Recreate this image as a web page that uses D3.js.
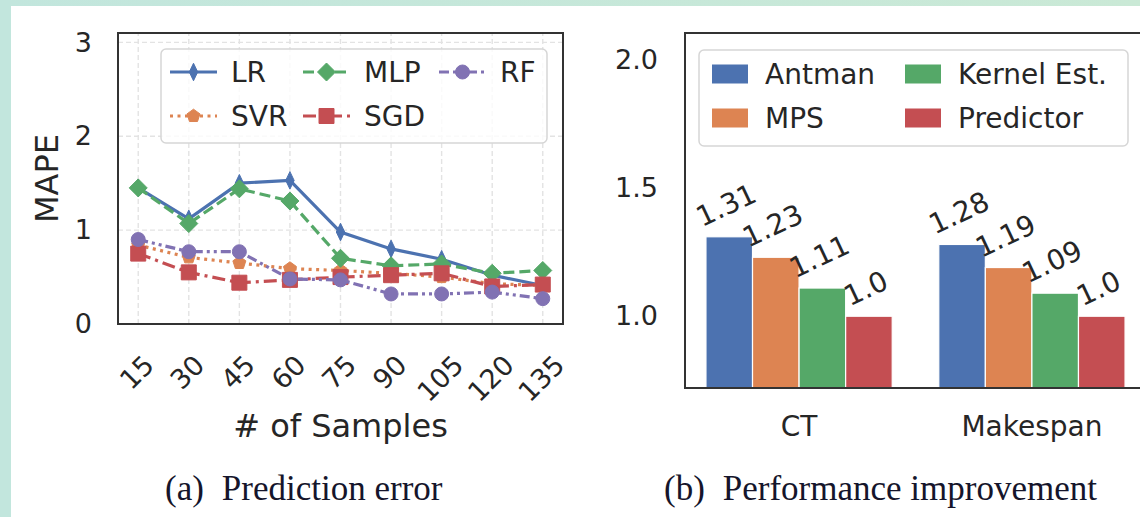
<!DOCTYPE html>
<html>
<head>
<meta charset="utf-8">
<script src="https://cdn.jsdelivr.net/npm/d3@7"></script>
<style>
  body { margin: 0; background: #ffffff; }
  svg { display: block; }
</style>
</head>
<body>
<svg id="fig" width="1140" height="517"></svg>
<script>
// ---- data: (a) prediction error ----
const samples = [15, 30, 45, 60, 75, 90, 105, 120, 135];
const lrErr  = [1.45, 1.12, 1.50, 1.53, 0.98, 0.80, 0.69, 0.52, 0.41];
const svrErr = [0.84, 0.71, 0.65, 0.59, 0.57, 0.54, 0.50, 0.43, 0.41];
const mlpErr = [1.45, 1.07, 1.44, 1.31, 0.70, 0.62, 0.64, 0.54, 0.57];
const sgdErr = [0.75, 0.55, 0.44, 0.47, 0.50, 0.52, 0.54, 0.40, 0.42];
const rfErr  = [0.90, 0.77, 0.77, 0.48, 0.47, 0.32, 0.32, 0.34, 0.27];
const modelNames = ["LR", "SVR", "MLP", "SGD", "RF"];
const mapeTicks = [0, 1, 2, 3];

// ---- data: (b) performance improvement ----
const metrics = ["CT", "Makespan"];
const methods = ["Antman", "MPS", "Kernel Est.", "Predictor"];
const ctGain = [1.31, 1.23, 1.11, 1.0];
const makespanGain = [1.28, 1.19, 1.09, 1.0];
const gainTicks = [1.0, 1.5, 2.0];

const palette = { blue: "#4C72B0", orange: "#DD8452", green: "#55A868", red: "#C44E52", purple: "#8172B3" };
const FONT = "'DejaVu Sans', sans-serif";
const TEXT = "#262626";

const svg = d3.select("#fig");

// ---- page frame ----
const defs = svg.append("defs");
const frameGrad = defs.append("linearGradient").attr("id", "frameTop").attr("x1", "0").attr("x2", "1");
frameGrad.append("stop").attr("offset", "0").attr("stop-color", "#c2e6dd");
frameGrad.append("stop").attr("offset", "1").attr("stop-color", "#cae9d6");
svg.append("rect").attr("x", 0).attr("y", 0).attr("width", 1140).attr("height", 6).attr("fill", "url(#frameTop)");
svg.append("rect").attr("x", 0).attr("y", 0).attr("width", 11).attr("height", 517).attr("fill", "#c2e6dd");

// marker path builders (size = nominal width in px)
function markerPath(kind, s) {
  const h = s / 2;
  if (kind === "thin") return `M0,${-h * 1.25}L${h * 0.6},0L0,${h * 1.25}L${-h * 0.6},0Z`;
  if (kind === "diamond") return `M0,${-h}L${h},0L0,${h}L${-h},0Z`;
  if (kind === "square") return `M${-h},${-h}H${h}V${h}H${-h}Z`;
  if (kind === "circle") return d3.symbol(d3.symbolCircle, Math.PI * h * h)();
  if (kind === "pentagon") {
    const pts = d3.range(5).map(i => {
      const a = -Math.PI / 2 + i * 2 * Math.PI / 5;
      return [h * 1.05 * Math.cos(a), h * 1.05 * Math.sin(a)];
    });
    return "M" + pts.map(p => p.join(",")).join("L") + "Z";
  }
}

// =================== (a) prediction error ===================
const xA = d3.scaleLinear().domain([9, 141]).range([118, 563]);
const yA = d3.scaleLinear().domain([0, 3.1]).range([324, 33]);

const panelA = svg.append("g");

// grid
const gridA = panelA.append("g").attr("stroke", "#e3e3e3").attr("stroke-width", 1.4).attr("stroke-dasharray", "5,3");
gridA.selectAll("line.gx").data(samples).join("line")
  .attr("x1", d => xA(d)).attr("x2", d => xA(d))
  .attr("y1", yA.range()[0]).attr("y2", yA.range()[1]);
gridA.selectAll("line.gy").data(mapeTicks).join("line")
  .attr("x1", xA.range()[0]).attr("x2", xA.range()[1])
  .attr("y1", d => yA(d)).attr("y2", d => yA(d));

// series, drawn in legend order (column-wise)
const seriesA = [
  { name: "LR",  values: lrErr,  color: palette.blue,   dash: null,           marker: "thin",     size: 14 },
  { name: "SVR", values: svrErr, color: palette.orange, dash: "3,4.5",        marker: "pentagon", size: 13 },
  { name: "MLP", values: mlpErr, color: palette.green,  dash: "11,5",         marker: "diamond",  size: 18 },
  { name: "SGD", values: sgdErr, color: palette.red,    dash: "13,5,3,5",     marker: "square",   size: 15 },
  { name: "RF",  values: rfErr,  color: palette.purple, dash: "10,4,3,4,3,4", marker: "circle",   size: 14 }
];

const lineA = d3.line().x(d => xA(d[0])).y(d => yA(d[1]));
seriesA.forEach(s => {
  const pts = samples.map((x, i) => [x, s.values[i]]);
  const g = panelA.append("g");
  g.append("path").attr("d", lineA(pts)).attr("fill", "none")
    .attr("stroke", s.color).attr("stroke-width", 3.2)
    .attr("stroke-dasharray", s.dash);
  g.selectAll("path.m").data(pts).join("path").attr("class", "m")
    .attr("transform", d => `translate(${xA(d[0])},${yA(d[1])})`)
    .attr("d", markerPath(s.marker, s.size))
    .attr("fill", s.color).attr("stroke", s.color).attr("stroke-width", 1);
});

// frame
panelA.append("rect")
  .attr("x", xA.range()[0]).attr("y", yA.range()[1])
  .attr("width", xA.range()[1] - xA.range()[0]).attr("height", yA.range()[0] - yA.range()[1])
  .attr("fill", "none").attr("stroke", "#333").attr("stroke-width", 2);

// y axis
const yAxisA = panelA.append("g").attr("transform", `translate(${xA.range()[0]},0)`)
  .call(d3.axisLeft(yA).tickValues(mapeTicks).tickSize(0).tickPadding(26).tickFormat(d3.format("d")));
yAxisA.select(".domain").remove();
yAxisA.selectAll("text").attr("font-family", FONT).attr("font-size", 27).attr("fill", TEXT);

// x axis with 45° labels
const xAxisA = panelA.append("g").attr("transform", `translate(0,${yA.range()[0]})`)
  .call(d3.axisBottom(xA).tickValues(samples).tickSize(0).tickFormat(d3.format("d")));
xAxisA.select(".domain").remove();
xAxisA.selectAll("text")
  .attr("font-family", FONT).attr("font-size", 27).attr("fill", TEXT)
  .attr("text-anchor", "middle").attr("dominant-baseline", "central").attr("dy", null)
  .attr("y", 0)
  .each(function () {
    const w = this.getComputedTextLength();
    const half = (w + 20) * Math.SQRT1_2 / 2;
    d3.select(this).attr("transform", `translate(-2,${29 + half}) rotate(-45)`);
  });

// axis titles
panelA.append("text").attr("transform", `translate(47,${(yA.range()[0] + yA.range()[1]) / 2}) rotate(-90)`)
  .attr("text-anchor", "middle").attr("dominant-baseline", "central")
  .attr("font-family", FONT).attr("font-size", 32).attr("fill", TEXT).text("MAPE");
panelA.append("text").attr("x", (xA.range()[0] + xA.range()[1]) / 2).attr("y", 437)
  .attr("text-anchor", "middle")
  .attr("font-family", FONT).attr("font-size", 32).attr("fill", TEXT).text("# of Samples");

// legend (3 columns, filled column-wise)
const legA = panelA.append("g");
legA.append("rect").attr("x", 161).attr("y", 49).attr("width", 386).attr("height", 94).attr("rx", 5)
  .attr("fill", "#ffffff").attr("fill-opacity", 0.8).attr("stroke", "#d6d6d6").attr("stroke-width", 1.5);
const legColX = [170, 303, 439];
const legRowY = [72, 116];
seriesA.forEach((s, i) => {
  const cx = legColX[Math.floor(i / 2)], cy = legRowY[i % 2];
  const g = legA.append("g").attr("transform", `translate(${cx},${cy})`);
  g.append("line").attr("x1", 0).attr("x2", 47).attr("y1", 0).attr("y2", 0)
    .attr("stroke", s.color).attr("stroke-width", 3.2).attr("stroke-dasharray", s.dash);
  g.append("path").attr("transform", "translate(23.5,0)").attr("d", markerPath(s.marker, s.size))
    .attr("fill", s.color).attr("stroke", s.color).attr("stroke-width", 1);
  g.append("text").attr("x", 61).attr("y", 0).attr("dominant-baseline", "central")
    .attr("font-family", FONT).attr("font-size", 28).attr("fill", TEXT).text(s.name);
});

// =================== (b) performance improvement ===================
const xB = d3.scaleLinear().domain([-0.49, 1.49]).range([685, 1146]);
const yB = d3.scaleLinear().domain([0.72, 2.105]).range([388, 33]);
const barColors = [palette.blue, palette.orange, palette.green, palette.red];
const barW = 0.2;
const gains = [ctGain, makespanGain];

const panelB = svg.append("g");
const bars = [];
metrics.forEach((m, gi) => methods.forEach((name, mi) => {
  bars.push({ metric: m, method: name, mi, x: gi + (mi - 1.5) * barW, v: gains[gi][mi] });
}));

panelB.selectAll("rect.bar").data(bars).join("rect").attr("class", "bar")
  .attr("x", d => xB(d.x - barW / 2)).attr("width", xB(barW) - xB(0))
  .attr("y", d => yB(d.v)).attr("height", d => yB.range()[0] - yB(d.v))
  .attr("fill", d => barColors[d.mi]).attr("stroke", "#ffffff").attr("stroke-width", 1.2);

// value labels, rotated 25°
const fmtGain = v => (Number.isInteger(v) ? v.toFixed(1) : String(v));
const ang = 25 * Math.PI / 180;
panelB.selectAll("text.val").data(bars).join("text").attr("class", "val")
  .attr("text-anchor", "middle").attr("dominant-baseline", "central")
  .attr("font-family", FONT).attr("font-size", 28).attr("fill", TEXT)
  .text(d => fmtGain(d.v))
  .each(function (d) {
    const w = this.getComputedTextLength();
    const hh = (w * Math.sin(ang) + 20.4 * Math.cos(ang)) / 2;
    d3.select(this).attr("transform", `translate(${xB(d.x) - 3},${yB(d.v) - 9 - hh}) rotate(-25)`);
  });

// frame
panelB.append("rect")
  .attr("x", xB.range()[0]).attr("y", yB.range()[1])
  .attr("width", xB.range()[1] - xB.range()[0]).attr("height", yB.range()[0] - yB.range()[1])
  .attr("fill", "none").attr("stroke", "#333").attr("stroke-width", 2);

// y axis
const yAxisB = panelB.append("g").attr("transform", `translate(${xB.range()[0]},0)`)
  .call(d3.axisLeft(yB).tickValues(gainTicks).tickSize(0).tickPadding(27).tickFormat(d3.format(".1f")));
yAxisB.select(".domain").remove();
yAxisB.selectAll("text").attr("font-family", FONT).attr("font-size", 27).attr("fill", TEXT);

// category labels
panelB.selectAll("text.cat").data(metrics).join("text").attr("class", "cat")
  .attr("x", (d, i) => xB(i)).attr("y", 436).attr("text-anchor", "middle")
  .attr("font-family", FONT).attr("font-size", 28).attr("fill", TEXT).text(d => d);

// legend (2 columns)
const legB = panelB.append("g");
legB.append("rect").attr("x", 699).attr("y", 50).attr("width", 429).attr("height", 96).attr("rx", 5)
  .attr("fill", "#ffffff").attr("fill-opacity", 0.8).attr("stroke", "#d6d6d6").attr("stroke-width", 1.5);
const legBColX = [712, 905];
const legBRowY = [74, 118];
methods.forEach((name, i) => {
  const cx = legBColX[Math.floor(i / 2)], cy = legBRowY[i % 2];
  const g = legB.append("g").attr("transform", `translate(${cx},${cy})`);
  g.append("rect").attr("x", 0).attr("y", -9.5).attr("width", 36).attr("height", 19).attr("fill", barColors[i]);
  g.append("text").attr("x", 53).attr("y", 0).attr("dominant-baseline", "central")
    .attr("font-family", FONT).attr("font-size", 28).attr("fill", TEXT).text(name);
});

// =================== captions ===================
const CAPFONT = "'Liberation Serif', 'Times New Roman', serif";
[
  { x: 165, tag: "(a)", title: "Prediction error" },
  { x: 664, tag: "(b)", title: "Performance improvement" }
].forEach(c => {
  const t = svg.append("text").attr("x", c.x).attr("y", 500)
    .attr("font-family", CAPFONT).attr("font-size", 35).attr("fill", "#15152b");
  t.append("tspan").text(c.tag);
  t.append("tspan").attr("dx", 18).text(c.title);
});
</script>
</body>
</html>
